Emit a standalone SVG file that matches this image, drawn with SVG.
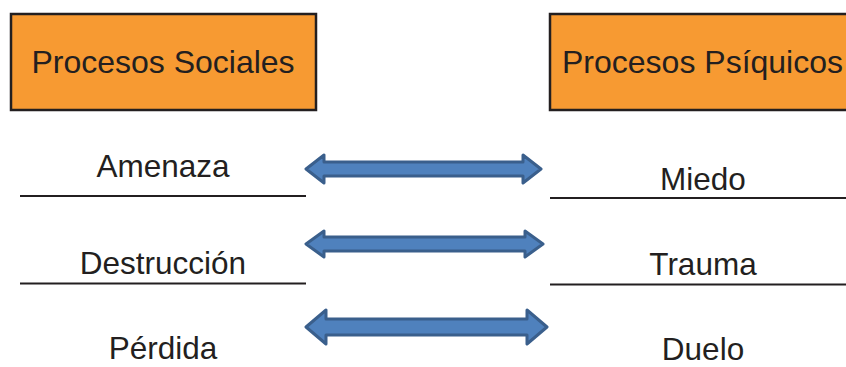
<svg xmlns="http://www.w3.org/2000/svg" width="846" height="367" viewBox="0 0 846 367">
<style>
.box{fill:#F79A32;stroke:#231F20;stroke-width:2.5}
.hdr{font-family:"Liberation Sans",Arial,sans-serif;font-size:32px;fill:#231F20}
.lbl{font-family:"Liberation Sans",Arial,sans-serif;font-size:31.5px;fill:#231F20;text-anchor:middle}
.rule{stroke:#231F20;stroke-width:2}
.arr{fill:#4F81BD;stroke:#3A5F8C;stroke-width:3;stroke-linejoin:round}
</style>
<rect width="846" height="367" fill="#fff"/>
<g id="social">
<rect class="box" x="11" y="14" width="305" height="96"/>
<text class="hdr" x="163" y="73" text-anchor="middle">Procesos Sociales</text>
</g>
<g id="psiquicos">
<rect class="box" x="550" y="14" width="300" height="96"/>
<text class="hdr" x="562" y="73">Procesos Psíquicos</text>
</g>
<g id="amenaza">
<text class="lbl" x="163" y="177">Amenaza</text>
<line class="rule" x1="20" y1="196" x2="306" y2="196"/>
</g>
<g id="destruccion">
<text class="lbl" x="163" y="274">Destrucción</text>
<line class="rule" x1="20" y1="283.5" x2="306" y2="283.5"/>
</g>
<g id="perdida">
<text class="lbl" x="163" y="359">Pérdida</text>
</g>
<g id="miedo">
<text class="lbl" x="703" y="190">Miedo</text>
<line class="rule" x1="550" y1="198" x2="846" y2="198"/>
</g>
<g id="trauma">
<text class="lbl" x="703" y="275">Trauma</text>
<line class="rule" x1="550" y1="284.5" x2="846" y2="284.5"/>
</g>
<g id="duelo">
<text class="lbl" x="703" y="360">Duelo</text>
</g>
<g id="connectors">
<polygon class="arr" points="306,169 324,155 324,162 523,162 523,155 541,169 523,183 523,176 324,176 324,183"/>
<polygon class="arr" points="306,244 324,231 324,237 525,237 525,231 543,244 525,257 525,251 324,251 324,257"/>
<polygon class="arr" points="306,327 326,310 326,319 527,319 527,310 547,327 527,344 527,335 326,335 326,344"/>
</g>
</svg>
